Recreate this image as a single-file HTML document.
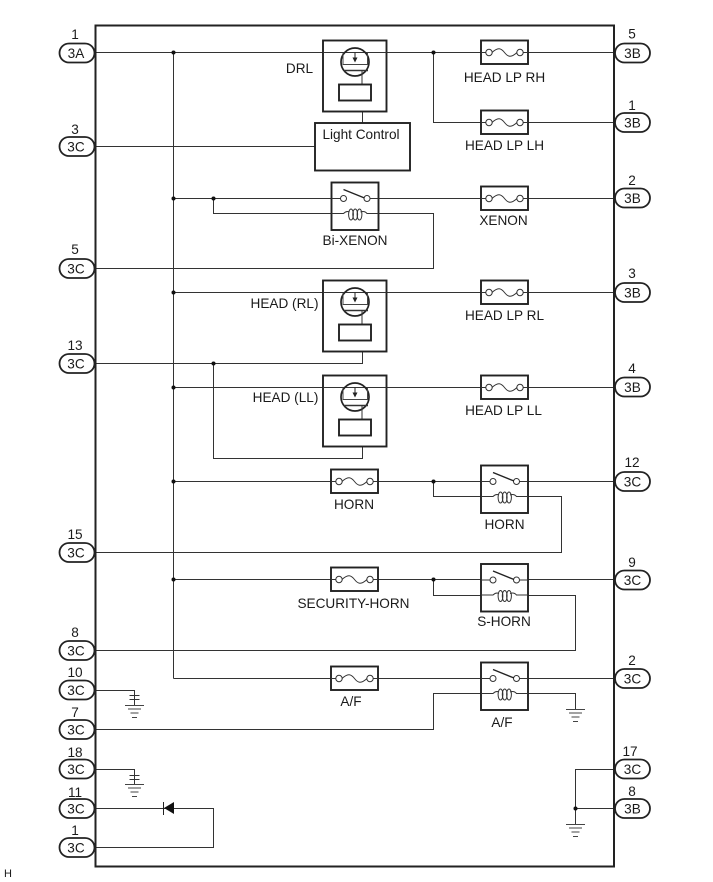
<!DOCTYPE html>
<html><head><meta charset="utf-8"><style>
html,body{margin:0;padding:0;background:#fff}
svg{display:block}
text{font-family:"Liberation Sans",sans-serif;font-size:13.6px;fill:#1a1a1a;text-anchor:middle}
</style></head><body>
<svg width="713" height="882" viewBox="0 0 713 882" xmlns="http://www.w3.org/2000/svg">
<defs>
<g id="pin"><rect x="-17.5" y="-9.5" width="35" height="19" rx="9.5" fill="#fff" stroke="#222" stroke-width="1.8"/></g>
<g id="fuse"><rect x="0" y="0" width="47" height="23.5" fill="#fff" stroke="#222" stroke-width="1.9"/>
<circle cx="8" cy="12" r="3.2" fill="#fff" stroke="#333"/><circle cx="39" cy="12" r="3.2" fill="#fff" stroke="#333"/>
<path d="M11 12C17 6.5 20 7.5 23.5 12S30 17.5 36 12" fill="none" stroke="#333"/>
<path d="M0 12H4.8M42.2 12H47" stroke="#333"/></g>
<g id="relay"><rect x="0" y="0" width="47" height="47.5" fill="#fff" stroke="#222" stroke-width="1.9"/>
<path d="M0 16H9M38.5 16H47M0 31H12Q15 28 18 29.5M29 29.5Q33 28 35.5 31H47" fill="none" stroke="#333"/>
<circle cx="12" cy="16" r="3" fill="#fff" stroke="#333"/><circle cx="35.5" cy="16" r="3" fill="#fff" stroke="#333"/>
<path d="M12 7L33 15.5" stroke="#222" stroke-width="1.4"/>
<ellipse cx="19.5" cy="32" rx="2.4" ry="5.5" fill="none" stroke="#333"/><ellipse cx="23.7" cy="32" rx="2.4" ry="5.5" fill="none" stroke="#333"/><ellipse cx="28" cy="32" rx="2.4" ry="5.5" fill="none" stroke="#333"/>
</g>
<g id="tr"><rect x="0" y="0" width="63.5" height="71" fill="#fff" stroke="#222" stroke-width="1.9"/>
<path d="M0 12H63.5" stroke="#333"/>
<circle cx="32" cy="21.5" r="14" fill="none" stroke="#222" stroke-width="1.7"/>
<path d="M20 12V24H44.5V12" fill="none" stroke="#444"/>
<path d="M32 12V18" stroke="#222"/><path d="M29.5 17H34.5L32 22Z" fill="#222"/>
<path d="M21 30H45" stroke="#333" stroke-width="1.6"/>
<path d="M39 30V44" stroke="#333"/>
<rect x="16" y="44" width="32" height="16" fill="#fff" stroke="#222" stroke-width="1.9"/></g>
<g id="gnd" stroke="#444" fill="none"><path d="M-9.5 0.5H9.5"/><path d="M-6.5 4H6.5"/><path d="M-4 8H4"/><path d="M-2.5 12.5H2.5"/></g>
</defs>

<g fill="none" stroke="#333" stroke-width="1">
<path d="M95 52.5H481M528 52.5H614"/>
<path d="M173.5 52.5V678.5"/>
<path d="M433.5 52.5V122.5H481M528 122.5H614"/>
<path d="M95 146.5H315M362.5 100V123"/>
<path d="M173.5 198.5H331M379 198.5H481M528 198.5H614"/>
<path d="M213.5 198.5V213.5H331M379 213.5H433.5V268.5H95"/>
<path d="M173.5 292.5H323M387 292.5H481M528 292.5H614"/>
<path d="M95 363.5H362.5V340"/>
<path d="M213.5 363.5V458.5H362.5V435"/>
<path d="M173.5 387.5H323M387 387.5H481M528 387.5H614"/>
<path d="M173.5 481.5H331M378 481.5H481M528 481.5H614"/>
<path d="M433.5 481.5V496.5H481M528 496.5H561.5V552.5H95"/>
<path d="M173.5 579.5H331M378 579.5H481M528 579.5H614"/>
<path d="M433.5 579.5V595.5H481M528 595.5H575.5V650.5H95"/>
<path d="M173.5 678.5H331M378 678.5H481M528 678.5H614"/>
<path d="M95 729.5H433.5V693.5H481M528 693.5H575.5V709"/>
<path d="M95 690.5H134.5V705"/>
<path d="M95 769.5H134.5V784"/>
<path d="M95 808.5H213.5V847.5H95"/>
<path d="M614 769.5H575.5V824M575.5 808.5H614"/>
</g>

<rect x="95.5" y="25.5" width="518.5" height="841" fill="none" stroke="#222" stroke-width="2"/>

<g fill="#111">
<circle cx="173.5" cy="52.5" r="2"/><circle cx="433.5" cy="52.5" r="2"/>
<circle cx="173.5" cy="198.5" r="2"/><circle cx="213.5" cy="198.5" r="2"/>
<circle cx="173.5" cy="292.5" r="2"/><circle cx="213.5" cy="363.5" r="2"/>
<circle cx="173.5" cy="387.5" r="2"/><circle cx="173.5" cy="481.5" r="2"/>
<circle cx="433.5" cy="481.5" r="2"/><circle cx="173.5" cy="579.5" r="2"/>
<circle cx="433.5" cy="579.5" r="2"/><circle cx="575.5" cy="808.5" r="2"/>
</g>

<use href="#tr" x="323" y="40.5"/>
<use href="#tr" x="323" y="280.5"/>
<use href="#tr" x="323" y="375.5"/>
<rect x="315" y="123" width="95" height="47.5" fill="#fff" stroke="#222" stroke-width="1.9"/>

<use href="#fuse" x="481" y="40.5"/>
<use href="#fuse" x="481" y="110.5"/>
<use href="#fuse" x="481" y="186.5"/>
<use href="#fuse" x="481" y="280.5"/>
<use href="#fuse" x="481" y="375.5"/>
<use href="#fuse" x="331" y="469.5"/>
<use href="#fuse" x="331" y="567.5"/>
<use href="#fuse" x="331" y="666.5"/>

<use href="#relay" x="331.5" y="182.5"/>
<use href="#relay" x="481" y="465.5"/>
<use href="#relay" x="481" y="564"/>
<use href="#relay" x="481" y="662.5"/>

<use href="#gnd" x="575.5" y="709"/>
<use href="#gnd" x="575.5" y="824"/>
<use href="#gnd" x="134.5" y="705"/>
<use href="#gnd" x="134.5" y="784"/>
<g stroke="#333"><path d="M129.5 695.5H139.5M129.5 699.5H139.5M129.5 775.5H139.5M129.5 779.5H139.5"/></g>
<path d="M174 802V814L164 808Z" fill="#111"/>
<path d="M163.5 802V815" stroke="#222" stroke-width="1"/>

<use href="#pin" x="77" y="53"/><use href="#pin" x="77" y="146.5"/><use href="#pin" x="77" y="268.5"/><use href="#pin" x="77" y="363.5"/><use href="#pin" x="77" y="552.5"/><use href="#pin" x="77" y="650.5"/><use href="#pin" x="77" y="690"/><use href="#pin" x="77" y="729.5"/><use href="#pin" x="77" y="769"/><use href="#pin" x="77" y="808.5"/><use href="#pin" x="77" y="847.5"/>
<use href="#pin" x="632.5" y="53"/><use href="#pin" x="632.5" y="122.5"/><use href="#pin" x="632.5" y="198"/><use href="#pin" x="632.5" y="292.5"/><use href="#pin" x="632.5" y="387"/><use href="#pin" x="632.5" y="481.5"/><use href="#pin" x="632.5" y="580"/><use href="#pin" x="632.5" y="678.5"/><use href="#pin" x="632.5" y="769"/><use href="#pin" x="632.5" y="808.5"/>

<g>
<text x="76" y="58">3A</text><text x="76" y="151.5">3C</text><text x="76" y="273.5">3C</text><text x="76" y="368.5">3C</text><text x="76" y="557.5">3C</text><text x="76" y="655.5">3C</text><text x="76" y="695">3C</text><text x="76" y="734.5">3C</text><text x="76" y="774">3C</text><text x="76" y="813.5">3C</text><text x="76" y="852.5">3C</text>
<text x="632.5" y="58">3B</text><text x="632.5" y="127.5">3B</text><text x="632.5" y="203">3B</text><text x="632.5" y="297.5">3B</text><text x="632.5" y="392">3B</text><text x="632.5" y="486.5">3C</text><text x="632.5" y="585">3C</text><text x="632.5" y="683.5">3C</text><text x="632.5" y="774">3C</text><text x="632.5" y="813.5">3B</text>

<text x="75" y="39">1</text><text x="75" y="134">3</text><text x="75" y="254">5</text><text x="75" y="350">13</text><text x="75" y="539">15</text><text x="75" y="637">8</text><text x="75" y="677">10</text><text x="75" y="717">7</text><text x="75" y="757">18</text><text x="75" y="797">11</text><text x="75" y="835">1</text>
<text x="632" y="38.5">5</text><text x="632" y="110">1</text><text x="632" y="185">2</text><text x="632" y="278">3</text><text x="632" y="373">4</text><text x="632" y="467">12</text><text x="632" y="567">9</text><text x="632" y="665">2</text><text x="630" y="756">17</text><text x="632" y="796">8</text>

<text x="299.5" y="73">DRL</text>
<text x="361" y="139">Light Control</text>
<text x="504.5" y="82">HEAD LP RH</text>
<text x="504.5" y="150">HEAD LP LH</text>
<text x="503.5" y="225">XENON</text>
<text x="355" y="245">Bi-XENON</text>
<text x="284.5" y="308">HEAD (RL)</text>
<text x="285.5" y="402">HEAD (LL)</text>
<text x="504.5" y="320">HEAD LP RL</text>
<text x="503.5" y="415">HEAD LP LL</text>
<text x="354" y="509">HORN</text>
<text x="504.5" y="529">HORN</text>
<text x="353.5" y="608">SECURITY-HORN</text>
<text x="504" y="626">S-HORN</text>
<text x="351" y="706">A/F</text>
<text x="502" y="727">A/F</text>
<text x="8" y="877" style="font-size:11px">H</text>
</g>
</svg>
</body></html>
